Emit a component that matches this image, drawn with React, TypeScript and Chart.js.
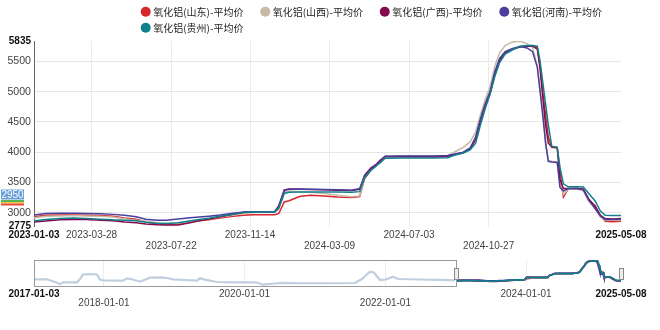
import React, { useEffect, useRef } from 'react';
import { Chart, registerables } from 'chart.js';

Chart.register(...registerables);

// ---------- data ----------
const seriesNames = [
  '氧化铝(山东)-平均价',
  '氧化铝(山西)-平均价',
  '氧化铝(广西)-平均价',
  '氧化铝(河南)-平均价',
  '氧化铝(贵州)-平均价',
];
const seriesColors = ['#d7262d', '#c8b9a5', '#870a4e', '#4b3d9b', '#10808c'];

const dates = [
  '2023-01-03', '2023-01-20', '2023-02-10', '2023-03-01', '2023-03-20', '2023-04-10', '2023-04-28', '2023-05-15', '2023-06-01', '2023-06-15',
  '2023-07-01', '2023-07-15', '2023-08-01', '2023-08-15', '2023-09-01', '2023-09-15', '2023-10-01', '2023-10-20', '2023-11-05', '2023-11-20',
  '2023-12-05', '2023-12-20', '2023-12-26', '2024-01-03', '2024-01-10', '2024-01-25', '2024-02-10', '2024-03-01', '2024-03-20', '2024-04-10',
  '2024-04-22', '2024-04-29', '2024-05-08', '2024-05-15', '2024-05-22', '2024-05-29', '2024-06-20', '2024-07-15', '2024-08-10', '2024-08-28',
  '2024-09-10', '2024-09-20', '2024-09-30', '2024-10-08', '2024-10-15', '2024-10-22', '2024-10-29', '2024-11-05', '2024-11-12', '2024-11-20',
  '2024-12-01', '2024-12-12', '2024-12-22', '2024-12-30', '2025-01-06', '2025-01-10', '2025-01-14', '2025-01-18', '2025-01-22', '2025-01-27',
  '2025-02-04', '2025-02-08', '2025-02-13', '2025-02-20', '2025-03-05', '2025-03-14', '2025-03-22', '2025-03-31', '2025-04-08', '2025-04-15',
  '2025-04-25', '2025-05-08',
];

const shandong = [
  2935, 2960, 2965, 2965, 2960, 2955, 2945, 2915, 2895, 2855,
  2815, 2810, 2815, 2845, 2870, 2885, 2915, 2945, 2960, 2970,
  2970, 2970, 2990, 3180, 3200, 3270, 3290, 3280, 3260, 3255,
  3270, 3560, 3700, 3790, 3830, 3920, 3925, 3925, 3925, 3930,
  3965, 3990, 4060, 4220, 4520, 4780, 4980, 5300, 5520, 5640,
  5700, 5740, 5750, 5760, 5720, 5420, 5000, 4620, 4250, 4080,
  4070, 3700, 3260, 3390, 3405, 3390, 3200, 3120, 2960, 2860,
  2855, 2860,
];
const shanxi = [
  2920, 2945, 2950, 2955, 2950, 2945, 2930, 2905, 2880, 2860,
  2835, 2825, 2830, 2850, 2880, 2900, 2930, 2960, 2990, 3005,
  3010, 3010, 3060, 3340, 3360, 3350, 3340, 3320, 3290, 3265,
  3280, 3580, 3720, 3790, 3850, 3920, 3920, 3920, 3920, 3940,
  4020, 4080, 4170, 4330, 4620, 4870, 5080, 5420, 5640, 5760,
  5820, 5830, 5790, 5730, 5420, 5050, 4650, 4200, 3860, 3850,
  3840, 3500, 3300, 3390, 3390, 3370, 3190, 3090, 2930, 2880,
  2880, 2885,
];
const guangxi = [
  2850, 2865, 2885, 2890, 2890, 2880, 2870, 2850, 2835, 2815,
  2805, 2800, 2800, 2830, 2870, 2900, 2935, 2975, 3010, 3020,
  3020, 3020, 3120, 3380, 3395, 3390, 3385, 3380, 3375, 3370,
  3390, 3620, 3740, 3790, 3870, 3930, 3930, 3930, 3930, 3935,
  3970, 3995, 4060, 4220, 4520, 4770, 4970, 5290, 5510, 5640,
  5700, 5740, 5750, 5750, 5700, 5380, 4900, 4450, 4150, 4090,
  4080, 3550, 3400, 3400, 3400, 3390, 3230, 3110, 2960, 2905,
  2900, 2905,
];
const henan = [
  2965, 2990, 2995, 2995, 2990, 2985, 2975, 2960, 2935, 2895,
  2880, 2880, 2900, 2915, 2930, 2945, 2965, 2995, 3015, 3020,
  3020, 3020, 3100, 3370, 3390, 3395, 3390, 3385, 3380, 3375,
  3400, 3600, 3720, 3780, 3850, 3935, 3940, 3940, 3940, 3945,
  3975, 4000, 4070, 4250, 4550, 4800, 5000, 5330, 5550, 5660,
  5710, 5745, 5720, 5660, 5400, 5000, 4600, 4150, 3850, 3840,
  3830, 3420, 3360, 3400, 3400, 3380, 3210, 3070, 2950, 2890,
  2890, 2895,
];
const guizhou = [
  2865, 2890, 2905, 2915, 2905, 2895, 2885, 2880, 2870, 2845,
  2830, 2825, 2835, 2860, 2890, 2910, 2945, 2975, 3005, 3015,
  3015, 3015, 3080, 3320, 3340, 3345, 3345, 3345, 3345, 3340,
  3350, 3580, 3700, 3760, 3830, 3900, 3905, 3905, 3905, 3910,
  3960, 3985, 4040, 4150, 4450, 4720, 4950, 5250, 5480, 5620,
  5690, 5750, 5760, 5760, 5750, 5500, 5150, 4800, 4450, 4100,
  4080, 3750, 3480, 3430, 3430, 3425, 3320, 3200, 3030, 2960,
  2955, 2955,
];

// overview (data-zoom) history before the selected window
const historyDates = [
  '2017-01-03', '2017-03-11', '2017-04-22', '2017-05-18', '2017-06-02', '2017-08-14', '2017-08-30', '2017-09-14', '2017-10-21', '2017-11-26',
  '2017-12-11', '2017-12-27', '2018-04-10', '2018-05-01', '2018-06-01', '2018-07-07', '2018-08-28', '2018-10-19', '2018-11-24', '2018-12-25',
  '2019-02-26', '2019-04-29', '2019-05-14', '2019-06-15', '2019-08-11', '2019-11-12', '2020-01-29', '2020-03-05', '2020-04-05', '2020-06-07',
  '2020-07-18', '2020-10-14', '2021-03-19', '2021-07-27', '2021-09-01', '2021-10-13', '2021-11-02', '2021-12-04', '2022-01-04', '2022-02-09',
  '2022-03-07', '2022-06-29', '2022-10-11', '2022-12-28',
];
const historyValues = [
  3100, 3100, 2710, 2385, 2670, 2670, 3140, 3785, 3856, 3785,
  3070, 2955, 2900, 3240, 3070, 2755, 3330, 3360, 3285, 3100,
  3000, 2900, 3240, 3025, 2710, 2670, 2670, 2640, 2325, 2500,
  2600, 2530, 2530, 2570, 3140, 4185, 4070, 3000, 3070, 3470,
  3140, 3070, 3025, 2955,
];

const mainXTicks = ['2023-01-03', '2023-03-28', '2023-07-22', '2023-11-14', '2024-03-09', '2024-07-03', '2024-10-27', '2025-05-08'];
const mainXRows = [1, 1, 2, 1, 2, 1, 2, 1];
const mainYTicks = [2775, 3000, 3500, 4000, 4500, 5000, 5500, 5835];
const miniXTicks = ['2017-01-03', '2018-01-01', '2020-01-01', '2022-01-01', '2024-01-01', '2025-05-08'];
const miniXRows = [1, 2, 1, 2, 1, 1];
const miniYRange = [2140, 5860];
const badgeText = '2950';

// ---------- helpers ----------
const FONT = '"Liberation Sans", "Noto Sans CJK SC", sans-serif';
const CJK = '"Noto Sans CJK SC", "Liberation Sans", sans-serif';
const dayOf = (s: string) => Date.parse(s + 'T00:00:00Z') / 86400000;

export default function App() {
  const mainRef = useRef<HTMLCanvasElement>(null);
  const miniRef = useRef<HTMLCanvasElement>(null);

  useEffect(() => {
    const series = [shandong, shanxi, guangxi, henan, guizhou];
    const xs = dates.map(dayOf);

    const makeSets = (width: number) =>
      series.map((vals, i) => ({
        label: seriesNames[i],
        data: vals.map((v, j) => ({ x: xs[j], y: v })),
        borderColor: seriesColors[i],
        backgroundColor: seriesColors[i],
        borderWidth: width,
        pointRadius: 0,
        pointHoverRadius: 0,
        tension: 0,
        fill: false,
        order: series.length - i + 1,
      }));

    const lastMX = mainXTicks.length - 1;
    const lastMY = mainYTicks.length - 1;
    const lastNX = miniXTicks.length - 1;

    const legendPlugin = {
      id: 'customLegend',
      afterDraw(chart: any) {
        const ctx = chart.ctx;
        const a = chart.chartArea;
        ctx.save();
        // legend
        ctx.font = `10px ${CJK}`;
        ctx.textBaseline = 'middle';
        ctx.textAlign = 'left';
        const startX = 145.7;
        const rowYs = [11.7, 27.7];
        const perRow = 4;
        let cx = startX;
        seriesNames.forEach((name, i) => {
          if (i % perRow === 0) cx = startX;
          const cy = rowYs[Math.floor(i / perRow)];
          ctx.fillStyle = seriesColors[i];
          ctx.beginPath();
          ctx.arc(cx, cy, 5, 0, Math.PI * 2);
          ctx.fill();
          ctx.fillStyle = '#222';
          const tx = cx + 7.5;
          ctx.fillText(name, tx, cy + 0.5);
          cx = tx + ctx.measureText(name).width + 21.8;
        });
        // highlighted badge on the left
        const by = a.bottom - 37;
        ctx.fillStyle = '#6aa0da';
        ctx.fillRect(1, by, 23, 10);
        ctx.fillStyle = '#ffffff';
        ctx.font = `10px ${FONT}`;
        ctx.textAlign = 'center';
        ctx.fillText(badgeText, 12.5, by + 5.3);
        ctx.fillStyle = '#58b558';
        ctx.fillRect(1, by + 10.5, 23, 2);
        ctx.fillStyle = '#f2c53c';
        ctx.fillRect(1, by + 12.5, 23, 1.5);
        ctx.fillStyle = '#e9483c';
        ctx.fillRect(1, by + 14, 23, 2);
        ctx.restore();
      },
    };

    const main = new Chart(mainRef.current as HTMLCanvasElement, {
      type: 'line',
      data: { datasets: makeSets(1.5) as any },
      options: {
        responsive: false,
        animation: false,
        events: [],
        layout: { padding: { top: 41, right: 39, bottom: 0, left: 0 } },
        plugins: { legend: { display: false }, tooltip: { enabled: false } },
        scales: {
          x: {
            type: 'linear',
            min: dayOf(mainXTicks[0]),
            max: dayOf(mainXTicks[lastMX]),
            afterBuildTicks: (s: any) => {
              s.ticks = mainXTicks.map((t) => ({ value: dayOf(t) }));
            },
            afterFit: (s: any) => {
              s.height = 29.5;
            },
            ticks: {
              autoSkip: false,
              maxRotation: 0,
              minRotation: 0,
              padding: 3,
              callback: (_v: any, i: number) => (mainXRows[i] === 2 ? ['', mainXTicks[i]] : mainXTicks[i]),
              font: (c: any) => ({
                family: FONT,
                size: 10,
                lineHeight: 1.1,
                weight: c.index === 0 || c.index === lastMX ? 'bold' : 'normal',
              }),
              color: (c: any) => (c.index === 0 || c.index === lastMX ? '#111' : '#444'),
            },
            grid: {
              drawTicks: false,
              lineWidth: 1,
              color: (c: any) => (c.index === 0 || c.index === lastMX ? 'rgba(0,0,0,0)' : '#ebebeb'),
            },
            border: { display: false },
          },
          y: {
            type: 'linear',
            min: mainYTicks[0],
            max: mainYTicks[lastMY],
            afterBuildTicks: (s: any) => {
              s.ticks = mainYTicks.map((v) => ({ value: v }));
            },
            afterFit: (s: any) => {
              s.width = 34;
            },
            ticks: {
              padding: 3,
              callback: (v: any) => String(v),
              font: (c: any) => ({
                family: FONT,
                size: c.index === 0 || c.index === lastMY ? 10 : 10.6,
                weight: c.index === 0 || c.index === lastMY ? 'bold' : 'normal',
              }),
              color: (c: any) => (c.index === 0 || c.index === lastMY ? '#111' : '#444'),
            },
            grid: {
              drawTicks: false,
              lineWidth: 1,
              color: (c: any) => (c.index === 0 || c.index === lastMY ? 'rgba(0,0,0,0)' : '#e6e6e6'),
            },
            border: { display: true, color: '#666', width: 1 },
          },
        },
      },
      plugins: [legendPlugin],
    });

    const sliderPlugin = {
      id: 'slider',
      afterDatasetsDraw(chart: any) {
        const { ctx, chartArea: a } = chart;
        const x = chart.scales.x;
        const x0 = x.getPixelForValue(dayOf(dates[0]));
        const x1 = x.getPixelForValue(dayOf(dates[dates.length - 1]));
        ctx.save();
        ctx.strokeStyle = '#9a9a9a';
        ctx.lineWidth = 1;
        ctx.strokeRect(Math.round(a.left) + 0.5, Math.round(a.top) + 0.5, Math.round(x0 - a.left), Math.round(a.bottom - a.top));
        const hy = (a.top + a.bottom) / 2;
        [x0, x1].forEach((px) => {
          const rx = Math.round(px - 2) + 0.5;
          const ry = Math.round(hy - 5.5) + 0.5;
          ctx.fillStyle = '#ececec';
          ctx.fillRect(rx, ry, 4, 11);
          ctx.strokeStyle = '#8a8a8a';
          ctx.strokeRect(rx, ry, 4, 11);
        });
        ctx.restore();
      },
    };

    const historySet = {
      label: 'history',
      data: historyDates.map((d, i) => ({ x: dayOf(d), y: historyValues[i] })),
      borderColor: '#bfcfdf',
      borderWidth: 2.2,
      pointRadius: 0,
      tension: 0,
      fill: false,
      order: 20,
    };

    const mini = new Chart(miniRef.current as HTMLCanvasElement, {
      type: 'line',
      data: { datasets: [historySet, ...makeSets(1.6)] as any },
      options: {
        responsive: false,
        animation: false,
        events: [],
        layout: { padding: { top: 4, right: 39, bottom: 0, left: 34 } },
        plugins: { legend: { display: false }, tooltip: { enabled: false } },
        scales: {
          x: {
            type: 'linear',
            min: dayOf(miniXTicks[0]),
            max: dayOf(miniXTicks[lastNX]),
            afterBuildTicks: (s: any) => {
              s.ticks = miniXTicks.map((t) => ({ value: dayOf(t) }));
            },
            afterFit: (s: any) => {
              s.height = 44;
            },
            ticks: {
              autoSkip: false,
              maxRotation: 0,
              minRotation: 0,
              padding: 3,
              callback: (_v: any, i: number) => (miniXRows[i] === 2 ? ['', miniXTicks[i]] : miniXTicks[i]),
              font: (c: any) => ({
                family: FONT,
                size: 10,
                lineHeight: 0.97,
                weight: c.index === 0 || c.index === lastNX ? 'bold' : 'normal',
              }),
              color: (c: any) => (c.index === 0 || c.index === lastNX ? '#111' : '#444'),
            },
            grid: {
              drawTicks: false,
              lineWidth: 1,
              color: (c: any) => (c.index === 0 || c.index === lastNX ? 'rgba(0,0,0,0)' : '#eeeeee'),
            },
            border: { display: false },
          },
          y: {
            display: false,
            min: miniYRange[0],
            max: miniYRange[1],
          },
        },
      },
      plugins: [sliderPlugin],
    });

    return () => {
      main.destroy();
      mini.destroy();
    };
  }, []);

  return (
    <div style={{ position: 'absolute', left: 0, top: 0, width: 660, height: 330, background: '#fff' }}>
      <canvas ref={mainRef} width={660} height={256} style={{ position: 'absolute', left: 0, top: 0 }} />
      <canvas ref={miniRef} width={660} height={74} style={{ position: 'absolute', left: 0, top: 256 }} />
    </div>
  );
}
